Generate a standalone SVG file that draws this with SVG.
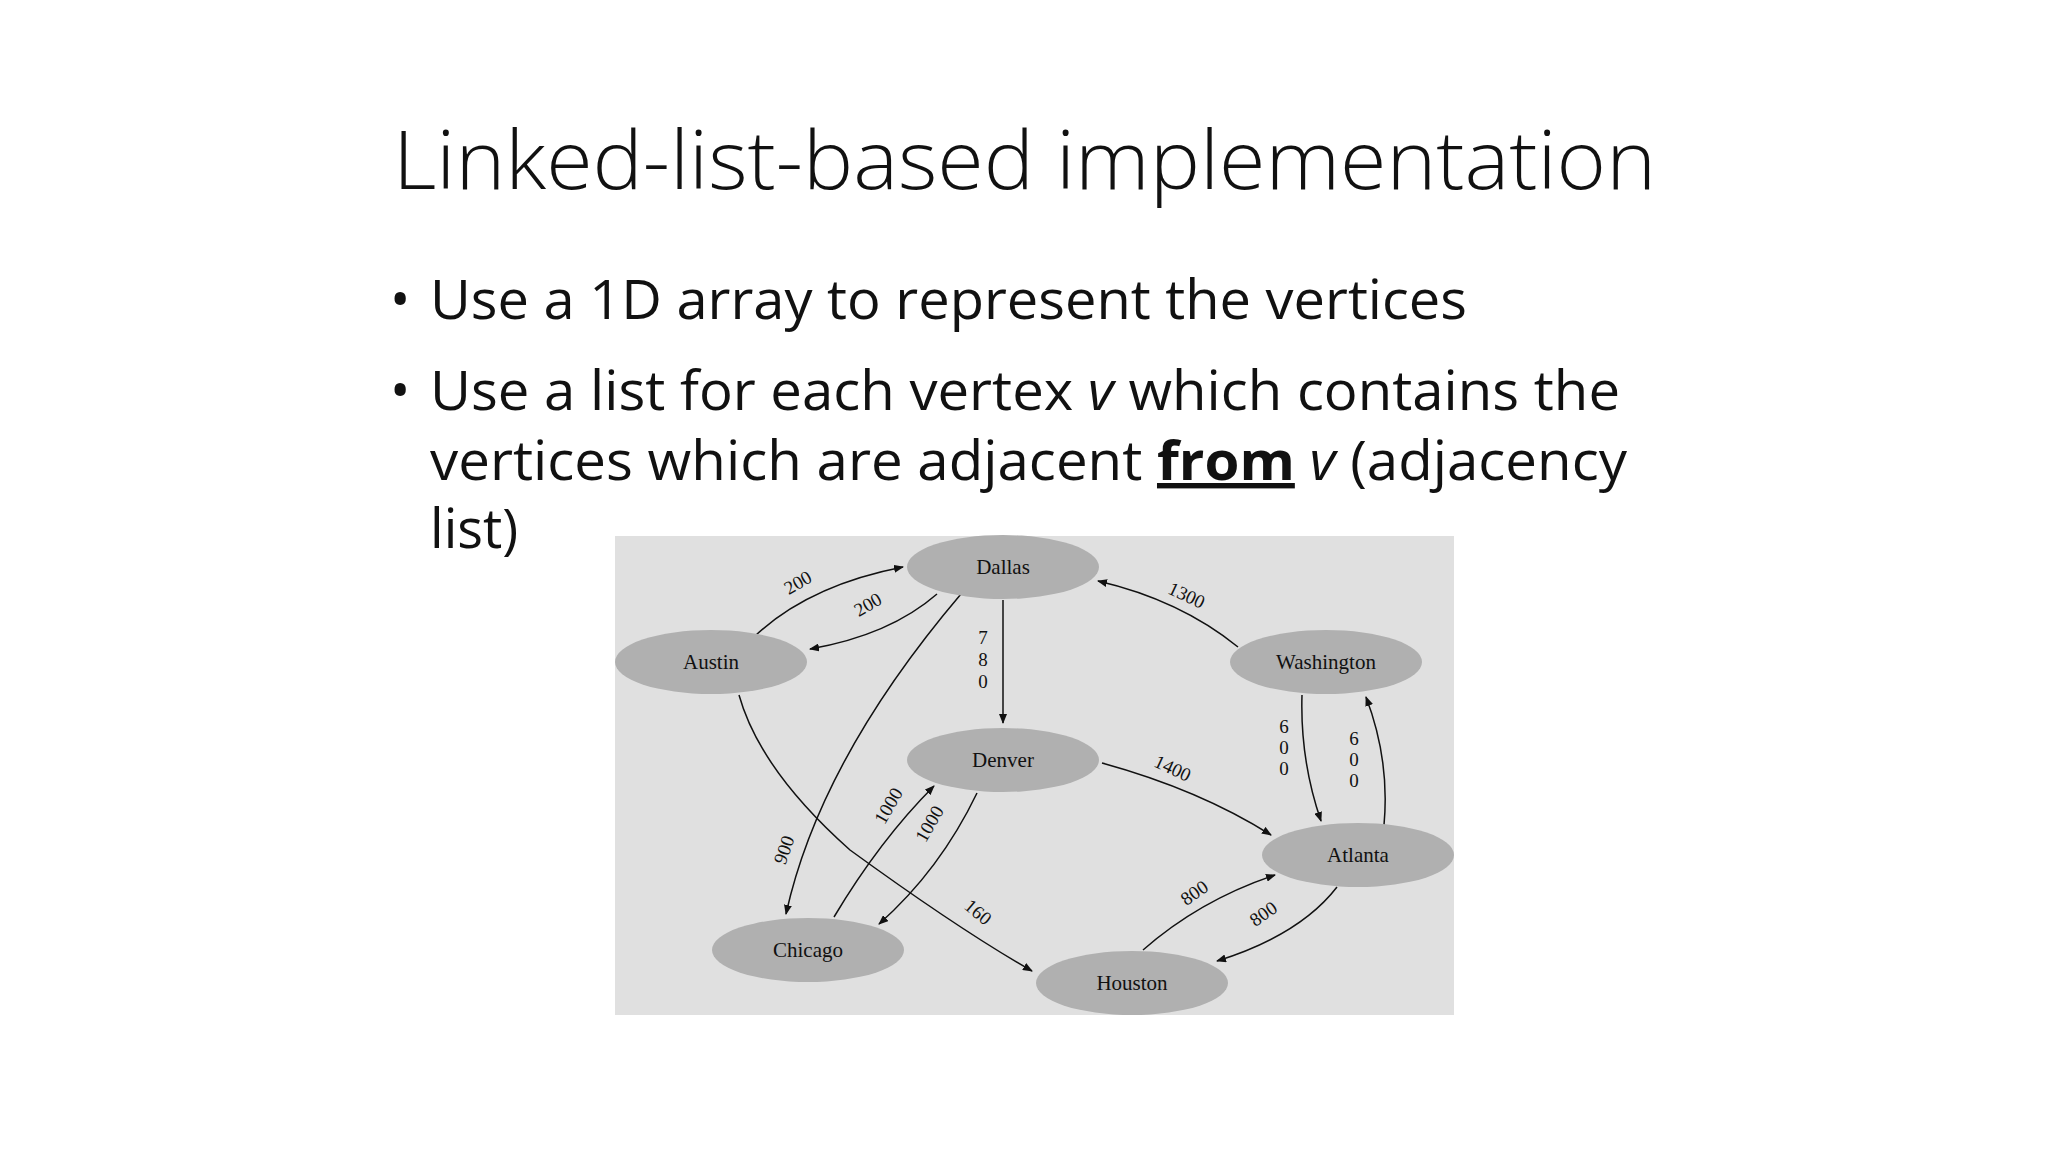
<svg xmlns="http://www.w3.org/2000/svg" width="2048" height="1152" viewBox="0 0 2048 1152">
<defs>
<marker id="ah" markerWidth="10" markerHeight="8" refX="9" refY="4" orient="auto" markerUnits="userSpaceOnUse"><path d="M0,0 L10,4 L0,8 z" fill="#111"/></marker>
<style>
.t{font-family:"Open Sans","Liberation Sans",sans-serif;fill:#111}
.n ellipse{fill:#b0b0b0}
.n text{font-family:"Liberation Serif",serif;font-size:21px;text-anchor:middle;fill:#111}
.e path{fill:none;stroke:#111;stroke-width:1.5;marker-end:url(#ah)}
.l text{font-family:"Liberation Serif",serif;font-size:19px;text-anchor:middle;fill:#111}
</style>
</defs>
<rect width="2048" height="1152" fill="#fff"/>
<text class="t" x="393" y="189" font-size="82" font-weight="300" textLength="1263" lengthAdjust="spacingAndGlyphs">Linked-list-based implementation</text>
<g class="t" font-size="54">
<text x="390" y="319">•</text>
<text x="430" y="319" textLength="1037" lengthAdjust="spacingAndGlyphs">Use a 1D array to represent the vertices</text>
<text x="390" y="410">•</text>
<text x="430" y="410" textLength="1190" lengthAdjust="spacingAndGlyphs">Use a list for each vertex <tspan font-style="italic">v</tspan> which contains the</text>
<text x="430" y="480" textLength="1197" lengthAdjust="spacingAndGlyphs">vertices which are adjacent <tspan font-weight="bold" text-decoration="underline">from</tspan> <tspan font-style="italic">v</tspan> (adjacency</text>
<text x="430" y="548">list)</text>
</g>
<rect x="615" y="536" width="839" height="479" fill="#e0e0e0"/>
<g class="e" id="edges">
<path d="M756,635 Q810,585 903,567"/>
<path d="M937,594 Q890,635 810,649"/>
<path d="M1003,600 L1003,723"/>
<path d="M961,594 Q820,760 786,914"/>
<path d="M1238,647 Q1180,600 1098,581"/>
<path d="M1302,695 Q1300,760 1321,821"/>
<path d="M1384,825 Q1390,760 1366,697"/>
<path d="M1102,763 Q1200,790 1271,835"/>
<path d="M834,917 Q880,840 934,786"/>
<path d="M977,793 Q940,870 879,924"/>
<path d="M739,695 Q760,770 850,850 Q960,930 1032,971"/>
<path d="M1143,950 Q1200,900 1275,875"/>
<path d="M1337,887 Q1300,935 1217,961"/>
</g>
<g class="l" id="labels">
<text transform="translate(801,588) rotate(-30)">200</text>
<text transform="translate(871,610) rotate(-30)">200</text>
<text x="983" y="644">7</text><text x="983" y="666">8</text><text x="983" y="688">0</text>
<text transform="translate(790,852) rotate(-70)">900</text>
<text transform="translate(1184,601) rotate(25)">1300</text>
<text x="1284" y="733">6</text><text x="1284" y="754">0</text><text x="1284" y="775">0</text>
<text x="1354" y="745">6</text><text x="1354" y="766">0</text><text x="1354" y="787">0</text>
<text transform="translate(1170,774) rotate(25)">1400</text>
<text transform="translate(894,809) rotate(-60)">1000</text>
<text transform="translate(935,827) rotate(-60)">1000</text>
<text transform="translate(974,917) rotate(40)">160</text>
<text transform="translate(1198,898) rotate(-35)">800</text>
<text transform="translate(1267,919) rotate(-35)">800</text>
</g>
<g class="n" id="Dallas"><ellipse cx="1003" cy="567" rx="96" ry="32"/><text x="1003" y="574">Dallas</text></g>
<g class="n" id="Austin"><ellipse cx="711" cy="662" rx="96" ry="32"/><text x="711" y="669">Austin</text></g>
<g class="n" id="Washington"><ellipse cx="1326" cy="662" rx="96" ry="32"/><text x="1326" y="669">Washington</text></g>
<g class="n" id="Denver"><ellipse cx="1003" cy="760" rx="96" ry="32"/><text x="1003" y="767">Denver</text></g>
<g class="n" id="Atlanta"><ellipse cx="1358" cy="855" rx="96" ry="32"/><text x="1358" y="862">Atlanta</text></g>
<g class="n" id="Chicago"><ellipse cx="808" cy="950" rx="96" ry="32"/><text x="808" y="957">Chicago</text></g>
<g class="n" id="Houston"><ellipse cx="1132" cy="983" rx="96" ry="32"/><text x="1132" y="990">Houston</text></g>
</svg>
